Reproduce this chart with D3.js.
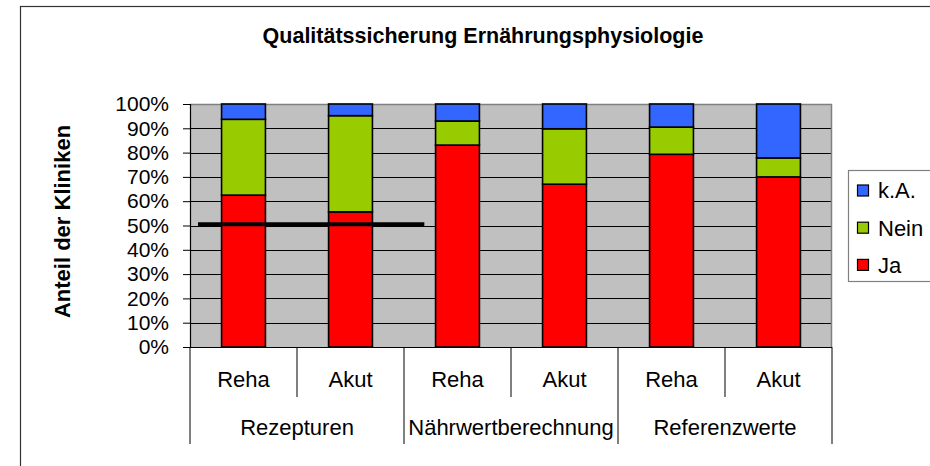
<!DOCTYPE html>
<html>
<head>
<meta charset="utf-8">
<script src="https://cdn.jsdelivr.net/npm/d3@7"></script>
<style>
    body { margin: 0; background: #fff; }
    #chart-area { width: 930px; height: 466px; }
    text { font-family: "Liberation Sans", Arial, sans-serif; fill: #000; }
</style>
</head>
<body>
<div id="chart-area"></div>
<script>
// categories
let groups = ["Rezepturen", "Nährwertberechnung", "Referenzwerte"];
let subGroups = ["Reha", "Akut"];
let series = ["Ja", "Nein", "k.A."];

// shares per bar (Rezepturen Reha, Rezepturen Akut, Nährwert Reha, Nährwert Akut, Referenz Reha, Referenz Akut)
let ja = [0.625, 0.556, 0.831, 0.670, 0.793, 0.700];
let nein = [0.312, 0.396, 0.099, 0.228, 0.112, 0.078];
let ka = [0.063, 0.048, 0.070, 0.102, 0.095, 0.222];

let yTicks = [0, 0.1, 0.2, 0.3, 0.4, 0.5, 0.6, 0.7, 0.8, 0.9, 1];

// reference line: value and extent in category units
let refValue = 0.505;
let refFrom = 0.075;
let refTo = 2.19;

let colors = {"Ja": "#ff0000", "Nein": "#99cc00", "k.A.": "#3366ff"};

class StackedChart {

    constructor(parentElement) {
        this.parentElement = parentElement;
    }

    initVis() {
        let vis = this;

        vis.margin = {top: 104, left: 190};
        vis.width = 642;
        vis.height = 243;

        vis.root = d3.select("#" + vis.parentElement).append("svg")
            .attr("width", 930)
            .attr("height", 466);

        // outer frame
        vis.root.append("rect")
            .attr("x", 20.5).attr("y", 6.5)
            .attr("width", 930).attr("height", 480)
            .attr("fill", "#fff")
            .attr("stroke", "#333")
            .attr("stroke-width", 1.2);

        vis.root.append("text")
            .attr("x", 483).attr("y", 42.5)
            .attr("text-anchor", "middle")
            .style("font-size", "21.5px")
            .style("font-weight", "bold")
            .text("Qualitätssicherung Ernährungsphysiologie");

        vis.root.append("text")
            .attr("transform", "translate(69.5,221.5) rotate(-90)")
            .attr("text-anchor", "middle")
            .style("font-size", "22px")
            .style("font-weight", "bold")
            .text("Anteil der Kliniken");

        vis.svg = vis.root.append("g")
            .attr("transform", "translate(" + vis.margin.left + "," + vis.margin.top + ")");

        vis.y = d3.scaleLinear().domain([0, 1]).range([vis.height, 0]);

        vis.labels = [];
        groups.forEach(g => subGroups.forEach(s => vis.labels.push(g + "|" + s)));

        vis.x = d3.scaleBand()
            .domain(vis.labels)
            .range([0, vis.width])
            .paddingInner(0.59)
            .paddingOuter(0.295);

        vis.xc = d3.scaleLinear().domain([0, vis.labels.length]).range([0, vis.width]);

        vis.wrangleData();
    }

    wrangleData() {
        let vis = this;
        vis.rows = vis.labels.map((l, i) => ({key: l, "Ja": ja[i], "Nein": nein[i], "k.A.": ka[i]}));
        vis.stacked = d3.stack().keys(series)(vis.rows);
        vis.updateVis();
    }

    updateVis() {
        let vis = this;

        // plot background
        vis.svg.append("rect")
            .attr("width", vis.width).attr("height", vis.height)
            .attr("fill", "#c0c0c0");

        // gridlines
        vis.svg.selectAll(".grid")
            .data(yTicks.slice(0, -1))
            .enter().append("line")
            .attr("class", "grid")
            .attr("x1", 0).attr("x2", vis.width)
            .attr("y1", d => Math.round(vis.y(d)) + 0.5)
            .attr("y2", d => Math.round(vis.y(d)) + 0.5)
            .attr("stroke", "#000")
            .attr("stroke-width", 1);

        // top and right border
        vis.svg.append("path")
            .attr("d", "M0," + (vis.y(1) + 0.5) + "H" + (vis.width - 0.5) + "V" + vis.height)
            .attr("fill", "none")
            .attr("stroke", "#808080")
            .attr("stroke-width", 1.5);

        // bars
        vis.svg.selectAll(".layer")
            .data(vis.stacked)
            .enter().append("g")
            .attr("class", "layer")
            .attr("fill", d => colors[d.key])
            .selectAll("rect")
            .data(d => d)
            .enter().append("rect")
            .attr("x", d => vis.x(d.data.key))
            .attr("y", d => vis.y(d[1]))
            .attr("width", vis.x.bandwidth())
            .attr("height", d => vis.y(d[0]) - vis.y(d[1]))
            .attr("stroke", "#000")
            .attr("stroke-width", 1.6);

        // reference line
        vis.svg.append("line")
            .attr("x1", vis.xc(refFrom)).attr("x2", vis.xc(refTo))
            .attr("y1", vis.y(refValue)).attr("y2", vis.y(refValue))
            .attr("stroke", "#000")
            .attr("stroke-width", 4);

        // y axis
        vis.yAxis = d3.axisLeft(vis.y)
            .tickValues(yTicks)
            .tickFormat(d3.format(".0%"))
            .tickSize(7)
            .tickPadding(14);

        let ya = vis.svg.append("g").attr("class", "y-axis").call(vis.yAxis);
        ya.select(".domain").attr("stroke", "#000").attr("stroke-width", 1.2);
        ya.selectAll(".tick line").attr("stroke", "#000");
        ya.selectAll("text").style("font-size", "21px").attr("fill", "#000");

        // category axis
        let cat = vis.svg.append("g").attr("transform", "translate(0," + vis.height + ")");

        cat.append("line")
            .attr("x1", 0).attr("x2", vis.width)
            .attr("y1", 0.5).attr("y2", 0.5)
            .attr("stroke", "#000");

        cat.selectAll(".sep")
            .data(d3.range(vis.labels.length + 1))
            .enter().append("line")
            .attr("class", "sep")
            .attr("x1", d => vis.xc(d)).attr("x2", d => vis.xc(d))
            .attr("y1", 0)
            .attr("y2", d => d % subGroups.length === 0 ? 97 : 50)
            .attr("stroke", "#000")
            .attr("stroke-width", 1);

        cat.selectAll(".sub")
            .data(vis.labels)
            .enter().append("text")
            .attr("class", "sub")
            .attr("x", d => vis.x(d) + vis.x.bandwidth() / 2)
            .attr("y", 40)
            .attr("text-anchor", "middle")
            .style("font-size", "22px")
            .text(d => d.split("|")[1]);

        cat.selectAll(".grp")
            .data(groups)
            .enter().append("text")
            .attr("class", "grp")
            .attr("x", (d, i) => vis.xc(i * subGroups.length + subGroups.length / 2))
            .attr("y", 88)
            .attr("text-anchor", "middle")
            .style("font-size", "22px")
            .text(d => d);

        // legend
        let leg = vis.root.append("g");
        leg.append("rect")
            .attr("x", 848.5).attr("y", 170.5)
            .attr("width", 100).attr("height", 111)
            .attr("fill", "#fff")
            .attr("stroke", "#808080")
            .attr("stroke-width", 1.2);

        let items = leg.selectAll(".item")
            .data(series.slice().reverse())
            .enter().append("g")
            .attr("class", "item")
            .attr("transform", (d, i) => "translate(857," + (190.5 + i * 37.2) + ")");

        items.append("rect")
            .attr("x", 0.5).attr("y", -5.5)
            .attr("width", 11).attr("height", 11)
            .attr("fill", d => colors[d])
            .attr("stroke", "#000")
            .attr("stroke-width", 1.2);

        items.append("text")
            .attr("x", 21)
            .attr("dy", "0.36em")
            .style("font-size", "22px")
            .text(d => d);
    }
}

let chart = new StackedChart("chart-area");
chart.initVis();
</script>
</body>
</html>
